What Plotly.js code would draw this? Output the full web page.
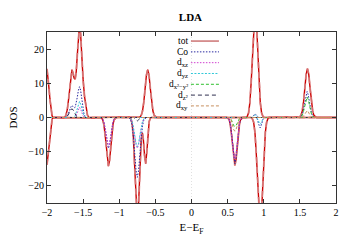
<!DOCTYPE html>
<html>
<head>
<meta charset="utf-8">
<script src="https://cdn.plot.ly/plotly-3.0.1.min.js"></script>
<style>html,body{margin:0;padding:0;background:#fff;}#chart{width:356px;height:249px;}</style>
</head>
<body>
<div id="chart"></div>
<script>
// Series names (legend)
const seriesNames = ['tot', 'Co', 'd<sub>xz</sub>', 'd<sub>yz</sub>', 'd<sub>x²−y²</sub>', 'd<sub>z²</sub>', 'd<sub>xy</sub>'];
const xTicks = [-2, -1.5, -1, -0.5, 0, 0.5, 1, 1.5, 2];
const yTicks = [-20, -10, 0, 10, 20];

// tot, spin up
const totUpE = [-2, -1.99, -1.98, -1.97, -1.96, -1.95, -1.94, -1.93, -1.92,
  -1.76, -1.74, -1.72, -1.70, -1.68, -1.665, -1.655, -1.64, -1.625, -1.61, -1.595, -1.58, -1.565, -1.55, -1.535, -1.52, -1.50, -1.48, -1.46, -1.44, -1.42,
  -0.732, -0.714, -0.696, -0.678, -0.660, -0.642, -0.624, -0.606, -0.588, -0.570, -0.552, -0.534, -0.516, -0.498, -0.480,
  0.754, 0.772, 0.790, 0.808, 0.826, 0.844, 0.862, 0.880, 0.898, 0.916, 0.934, 0.952, 0.970, 0.988, 1.006,
  1.479, 1.497, 1.515, 1.533, 1.551, 1.569, 1.587, 1.605, 1.623, 1.641, 1.659, 1.677, 1.695, 1.713, 1.731, 2];
const totUpD = [14.2, 12.5, 10.5, 8, 5.5, 3.3, 1.6, 0.5, 0,
  0, 0.5, 2.2, 5.5, 10, 13, 14, 13, 11.5, 11.2, 13.5, 18.5, 24, 27, 24.5, 18, 11, 6, 2.5, 0.7, 0,
  0, 0.16, 0.61, 1.89, 4.55, 8.49, 12.36, 14, 12.36, 8.49, 4.55, 1.89, 0.61, 0.16, 0,
  0, 0.36, 1.40, 4.33, 10.39, 19.41, 28.24, 32, 28.24, 19.41, 10.39, 4.33, 1.40, 0.36, 0,
  0, 0.16, 0.63, 1.93, 4.64, 8.67, 12.62, 14.3, 12.62, 8.67, 4.64, 1.93, 0.63, 0.16, 0, 0];
// tot, spin down
const totDnE = [-2, -1.99, -1.98, -1.97, -1.96, -1.95, -1.94, -1.93, -1.92,
  -1.262, -1.246, -1.230, -1.214, -1.198, -1.182, -1.166, -1.150, -1.134, -1.118, -1.102, -1.086, -1.070, -1.054, -1.038,
  -0.858, -0.84, -0.822, -0.804, -0.786, -0.768, -0.75, -0.732, -0.714, -0.696, -0.68, -0.666, -0.65, -0.634, -0.618, -0.602, -0.586, -0.57, -0.554,
  0.488, 0.504, 0.520, 0.536, 0.552, 0.568, 0.584, 0.600, 0.616, 0.632, 0.648, 0.664, 0.680, 0.696, 0.712,
  0.824, 0.842, 0.860, 0.878, 0.896, 0.914, 0.932, 0.950, 0.968, 0.986, 1.004, 1.022, 1.040, 1.058, 1.076, 2];
const totDnD = [-13.8, -12, -10, -7.8, -5.5, -3.4, -1.7, -0.6, 0,
  0, -0.16, -0.62, -1.92, -4.61, -8.61, -12.53, -14.2, -12.53, -8.61, -4.61, -1.92, -0.62, -0.16, 0,
  0, -0.33, -1.68, -5.94, -14.6, -25.1, -30, -25.1, -14.7, -6.56, -4.47, -6.53, -11.1, -13.5, -10, -4.5, -1.2, -0.2, 0,
  0, -0.16, -0.62, -1.89, -4.55, -8.49, -12.36, -14, -12.36, -8.49, -4.55, -1.89, -0.62, -0.16, 0,
  0, -0.36, -1.40, -4.33, -10.39, -19.41, -28.24, -32, -28.24, -19.41, -10.39, -4.33, -1.40, -0.36, 0, 0];

// Co
const coUpE = [-2, -1.75, -1.72, -1.70, -1.685, -1.67, -1.655, -1.64, -1.625, -1.61, -1.595, -1.58, -1.565, -1.55, -1.535, -1.52, -1.505, -1.49, -1.475, -1.46,
  0.84, 0.86, 0.875, 0.89, 0.91, 0.93,
  1.50, 1.52, 1.54, 1.555, 1.57, 1.585, 1.6, 1.615, 1.63, 1.645, 1.66, 1.68, 1.70, 2];
const coUpD = [0, 0, 0.3, 1.2, 2.2, 3.1, 3.5, 3.2, 2.8, 3.0, 4.2, 6.0, 8.0, 9.0, 8.0, 5.6, 3.0, 1.3, 0.4, 0,
  0, 0.5, 1.0, 0.9, 0.3, 0,
  0, 0.3, 1.3, 2.8, 4.8, 6.7, 7.6, 6.7, 4.8, 2.8, 1.3, 0.3, 0, 0];
const coDnE = [-2, -1.246, -1.23, -1.214, -1.198, -1.182, -1.166, -1.15, -1.134, -1.118, -1.102, -1.086, -1.07, -1.054,
  -0.876, -0.858, -0.84, -0.822, -0.804, -0.786, -0.768, -0.75, -0.732, -0.714, -0.696, -0.678, -0.66, -0.642, -0.624,
  0.488, 0.504, 0.52, 0.536, 0.552, 0.568, 0.584, 0.6, 0.616, 0.632, 0.648, 0.664, 0.68, 0.696, 0.712,
  0.89, 0.91, 0.93, 0.95, 0.97, 0.99, 1.01, 2];
const coDnD = [0, 0, -0.4, -1.2, -2.9, -5.5, -7.9, -9, -7.9, -5.5, -2.9, -1.2, -0.4, 0,
  0, -0.19, -0.77, -2.37, -5.68, -10.61, -15.44, -17.5, -15.44, -10.61, -5.68, -2.37, -0.77, -0.19, 0,
  0, -0.15, -0.59, -1.83, -4.38, -8.19, -11.91, -13.5, -11.91, -8.19, -4.38, -1.83, -0.59, -0.15, 0,
  0, -0.5, -2.0, -3.0, -2.0, -0.5, 0, 0];

// d_xz
const dxzUpE = [-2, -1.62, -1.6, -1.58, -1.565, -1.55, -1.535, -1.52, -1.50, -1.48, 2];
const dxzUpD = [0, 0, 0.4, 1.5, 2.5, 3, 2.5, 1.5, 0.4, 0, 0];
const dxzDnE = [-2, -1.246, -1.23, -1.214, -1.198, -1.182, -1.166, -1.15, -1.134, -1.118, -1.102, -1.086, -1.07, -1.054,
  -0.858, -0.84, -0.822, -0.804, -0.786, -0.768, -0.75, -0.732, -0.714, -0.696, -0.678, -0.66, -0.642,
  0.504, 0.52, 0.536, 0.552, 0.568, 0.584, 0.6, 0.616, 0.632, 0.648, 0.664, 0.68, 0.696, 2];
const dxzDnD = [0, 0, -0.4, -1.15, -2.76, -5.16, -7.5, -8.5, -7.5, -5.16, -2.76, -1.15, -0.4, 0,
  0, -0.4, -1.22, -2.92, -5.46, -7.94, -9, -7.94, -5.46, -2.92, -1.22, -0.4, 0,
  0, -0.5, -1.6, -3.9, -7.3, -10.6, -12, -10.6, -7.3, -3.9, -1.6, -0.5, 0, 0];

// d_yz
const dyzUpE = [-2, -1.63, -1.61, -1.59, -1.57, -1.55, -1.53, -1.51, -1.49, -1.47, 0.84, 0.86, 0.88, 0.90, 0.92, 2];
const dyzUpD = [0, 0, 0.5, 1.9, 3.7, 4.7, 3.7, 1.9, 0.5, 0, 0, 0.4, 0.8, 0.4, 0, 0];
const dyzDnE = [-2, -0.858, -0.84, -0.822, -0.804, -0.786, -0.768, -0.75, -0.732, -0.714, -0.696, -0.678, -0.66, -0.642,
  0.90, 0.92, 0.94, 0.95, 0.96, 0.98, 1.0, 2];
const dyzDnD = [0, 0, -0.37, -1.15, -2.76, -5.16, -7.5, -8.5, -7.5, -5.16, -2.76, -1.15, -0.37, 0,
  0, -0.6, -1.7, -2, -1.7, -0.6, 0, 0];

// d_x2-y2
const dx2UpE = [-2, 1.50, 1.52, 1.54, 1.555, 1.57, 1.585, 1.6, 1.615, 1.63, 1.645, 1.66, 1.68, 1.70, 2];
const dx2UpD = [0, 0, 0.25, 1.0, 2.2, 3.8, 5.3, 6, 5.3, 3.8, 2.2, 1.0, 0.25, 0, 0];
const dx2DnE = [-2, 0.53, 0.55, 0.57, 0.585, 0.6, 0.615, 0.63, 0.65, 0.67, 2];
const dx2DnD = [0, 0, -0.6, -1.8, -2.4, -2.6, -2.4, -1.8, -0.6, 0, 0];

// d_z2
const dz2UpE = [-2, -1.74, -1.71, -1.69, -1.67, -1.655, -1.64, -1.62, -1.60, -1.57, 2];
const dz2UpD = [0, 0, 0.6, 1.5, 2.3, 2.5, 2.3, 1.5, 0.6, 0, 0];
const dz2DnE = [-2, -0.80, -0.77, -0.75, -0.73, -0.70, 2];
const dz2DnD = [0, 0, -0.6, -1, -0.6, 0, 0];

// d_xy
const dxyUpE = [-2, 1.53, 1.56, 1.585, 1.6, 1.615, 1.64, 1.67, 2];
const dxyUpD = [0, 0, 0.7, 1.7, 2, 1.7, 0.7, 0, 0];
const dxyDnE = [-2, 0.53, 0.55, 0.57, 0.585, 0.6, 0.615, 0.63, 0.65, 0.67, 2];
const dxyDnD = [0, 0, -0.9, -2.6, -3.6, -4, -3.6, -2.6, -0.9, 0, 0];

const styles = [
  {color: 'rgba(215,135,135,0.8)', dash: '6px,4px', width: 1.9},
  {color: '#2a2aa0', dash: '1.5px,1.5px', width: 1},
  {color: '#d040d0', dash: '1.5px,1.5px', width: 1},
  {color: '#30c8d8', dash: '2px,1.5px', width: 1},
  {color: '#30c030', dash: '3px,2px', width: 1},
  {color: '#303050', dash: '4px,3px', width: 1},
  {color: '#c89060', dash: '3px,2px', width: 1}
];

function join(aE, aD, bE, bD) {
  return {x: aE.concat([null], bE), y: aD.concat([null], bD)};
}
const seriesData = [
  join(totUpE, totUpD, totDnE, totDnD),
  join(coUpE, coUpD, coDnE, coDnD),
  join(dxzUpE, dxzUpD, dxzDnE, dxzDnD),
  join(dyzUpE, dyzUpD, dyzDnE, dyzDnD),
  join(dx2UpE, dx2UpD, dx2DnE, dx2DnD),
  join(dz2UpE, dz2UpD, dz2DnE, dz2DnD),
  join(dxyUpE, dxyUpD, dxyDnE, dxyDnD)
];

const traces = [];
// red core line of the total
traces.push({x: seriesData[0].x, y: seriesData[0].y, mode: 'lines', showlegend: false, hoverinfo: 'skip',
  line: {color: '#cc0000', width: 1.4}, connectgaps: false});
seriesData.forEach((d, i) => {
  traces.push({x: d.x, y: d.y, mode: 'lines', name: seriesNames[i], showlegend: false,
    line: {color: styles[i].color, dash: styles[i].dash, width: styles[i].width}, connectgaps: false});
});

const FONT = 'Liberation Serif, Times New Roman, serif';
// gnuplot-style key: text right-aligned, sample line to the right
const annotations = [];
const shapes = [];
const keyTop = 0.947, keyStep = 0.0632;
seriesNames.forEach((n, i) => {
  const yy = keyTop - i * keyStep;
  annotations.push({xref: 'paper', yref: 'paper', x: 0.49, y: yy, xanchor: 'right', yanchor: 'middle',
    text: n, showarrow: false, borderpad: 0, font: {family: FONT, size: 9.5, color: '#000'}});
  shapes.push({type: 'line', xref: 'paper', yref: 'paper', x0: 0.498, x1: 0.595, y0: yy, y1: yy,
    line: {color: i === 0 ? '#c86a6a' : styles[i].color, dash: i === 0 ? 'solid' : styles[i].dash, width: i === 0 ? 1.4 : 1}});
});
// faint dotted vertical line at the Fermi level
shapes.push({type: 'line', xref: 'x', yref: 'paper', x0: 0, x1: 0, y0: 0, y1: 1,
  line: {color: '#e0e0e0', dash: '1px,2px', width: 1}, layer: 'below'});

const layout = {
  width: 356, height: 249,
  margin: {l: 47, r: 20, t: 32, b: 46, pad: 0},
  paper_bgcolor: '#fff', plot_bgcolor: '#fff',
  font: {family: FONT, size: 10, color: '#000'},
  title: {text: '<b>LDA</b>', font: {family: FONT, size: 11, color: '#000'}, x: 0.535, xanchor: 'center', y: 0.93, yanchor: 'middle', yref: 'container'},
  showlegend: false,
  xaxis: {range: [-2, 2], tickvals: xTicks, ticktext: xTicks.map(v => String(v).replace('-', '−')),
    ticks: 'inside', ticklen: 4, tickcolor: '#333', showline: true, mirror: 'ticks', linecolor: '#333', linewidth: 1,
    showgrid: false, zeroline: false, tickfont: {family: FONT, size: 10},
    title: {text: 'E−E<sub>F</sub>', font: {family: FONT, size: 11}, standoff: 6}},
  yaxis: {range: [-25, 25], tickvals: yTicks, ticktext: yTicks.map(v => String(v).replace('-', '−')),
    ticks: 'inside', ticklen: 4, tickcolor: '#333', showline: true, mirror: 'ticks', linecolor: '#333', linewidth: 1,
    showgrid: false, zeroline: false, tickfont: {family: FONT, size: 10},
    title: {text: 'DOS', font: {family: FONT, size: 11}, standoff: 8}},
  annotations: annotations,
  shapes: shapes
};

Plotly.newPlot('chart', traces, layout, {displayModeBar: false, staticPlot: true});
</script>
</body>
</html>
